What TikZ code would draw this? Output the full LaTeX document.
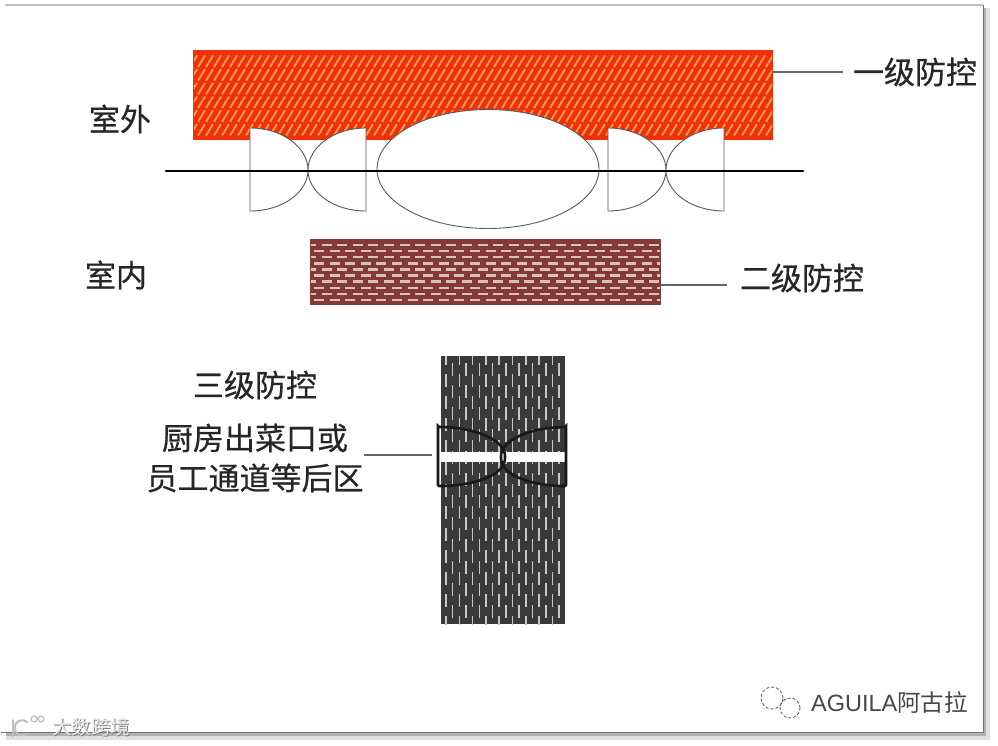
\documentclass[tikz,border=0pt]{standalone}
\usepackage{fontspec}
\usetikzlibrary{shapes.geometric}
\setmainfont{Liberation Sans}
\newfontfamily\cjk{Noto Sans CJK SC}
\newfontfamily\cjklabel[FakeBold=0.5]{Noto Sans CJK SC}
\definecolor{hotred}{HTML}{F22F08}
\definecolor{hatch}{HTML}{F59A4E}
\definecolor{brick}{HTML}{843A37}
\definecolor{brickdash}{HTML}{D8C2BD}
\definecolor{darkzone}{HTML}{3A3A3A}
\tikzset{
  zonelabel/.style={font=\cjklabel\fontsize{31}{40}\selectfont, text=black!85, align=center, inner sep=0pt},
  leader/.style={draw=black!60, line width=1.4pt},
  doorleaf/.style={draw=black!65, line width=0.9pt, fill=white},
  kitchenleaf/.style={draw=black!90, line width=2.6pt, rounded corners=1pt},
  zone/.style={inner sep=0pt, outer sep=0pt, minimum width=#1}
}
\begin{document}
\begin{tikzpicture}[x=1pt, y=-1pt]
  \useasboundingbox (0,0) rectangle (998,746);
  \fill[black!12] (6,8) rectangle (990,740);
  \fill[black!30] (6,8) rectangle (986,736);
  \fill[white] (1,5) rectangle (983,732);
  \draw[black!25, line width=1.5pt] (5,5) -- (983,5);
  \draw[black!55, line width=0.8pt] (1,732) -- (983,732) -- (983,5);
  % outdoor zone
  \node[zone=580pt, minimum height=90pt, fill=hotred] (outer) at (483,95) {};
  \begin{scope}
    \clip (194,52) rectangle (772,138);
    \foreach \row in {0,...,5} {
      \foreach \i in {0,...,74} {
        \draw[hatch, line width=2pt] ({190+\i*8},{67+\row*13.7}) -- ++(7,-11.5);
      }
    }
  \end{scope}
  % middle zone
  \node[zone=351pt, minimum height=66pt, fill=brick] (middle) at (485.5,272) {};
  \begin{scope}
    \clip (311,241) rectangle (660,303);
    \foreach \row in {0,...,9} {
      \pgfmathsetmacro{\shift}{mod(\row,2)*8}
      \foreach \i in {0,...,23} {
        \draw[brickdash, line width=2.4pt] ({306+\shift+\i*15.6},{245+\row*6.1}) -- ++(10,0);
      }
    }
  \end{scope}
  % back zone
  \node[zone=124pt, minimum height=268pt, fill=darkzone] (back) at (503,490) {};
  \begin{scope}
    \clip (441,356) rectangle (565,624);
    \foreach \row in {0,...,12} {
      \foreach \i in {0,...,17} {
        \pgfmathsetmacro{\shift}{mod(\i,2)*11}
        \draw[black!22, line width=1.5pt] ({446+\i*6.65},{352+\shift+\row*22}) -- ++(0,13);
      }
    }
  \end{scope}
  \node[fill=white, inner sep=0pt, minimum width=124pt, minimum height=10pt] (kitchenbar) at (503,457) {};
  \draw[kitchenleaf] (438,427) -- (438,486) .. controls (475,486) and (505,475) .. (505,457) .. controls (505,440) and (475,427) .. cycle;
  \draw[kitchenleaf] (566,427) -- (566,486) .. controls (531,486) and (501,475) .. (501,457) .. controls (501,440) and (531,427) .. cycle;
  % doors on the wall
  \node[draw=black!65, line width=0.9pt, fill=white, ellipse, minimum width=222pt, minimum height=119pt, inner sep=0pt] (lobby) at (488,169) {};
  \foreach \cx in {308,666} {
    \draw[doorleaf] ({\cx-58},128) -- ({\cx-58},211) .. controls ({\cx-25},211) and (\cx,192) .. (\cx,170) .. controls (\cx,148) and ({\cx-25},128) .. cycle;
    \draw[doorleaf] ({\cx+58},128) -- ({\cx+58},211) .. controls ({\cx+25},211) and (\cx,192) .. (\cx,170) .. controls (\cx,148) and ({\cx+25},128) .. cycle;
  }
  \coordinate (wallstart) at (166,171);
  \coordinate (wallend) at (803,171);
  \draw[black, line width=2.2pt, line cap=round] (wallstart) -- (wallend);
  % labels
  \node[zonelabel] (outdoor) at (120,119) {室外};
  \node[zonelabel] (indoor) at (116,275) {室内};
  \node[zonelabel] (levelone) at (915,72) {一级防控};
  \node[zonelabel] (leveltwo) at (802,278) {二级防控};
  \node[zonelabel] (levelthree) at (255,385) {三级防控};
  \node[zonelabel] (kitchen) at (255,458) {厨房出菜口或\\员工通道等后区};
  \coordinate (barend) at (432,455);
  \draw[leader] (levelone.west -| outer.east) -- ++(70,0);
  \draw[leader] (middle.east |- 0,285) -- (727,285);
  \draw[leader] (kitchen.east |- barend) -- (barend);
  % watermarks
  \node[font=\cjk\fontsize{19.5}{19.5}\selectfont, text=black!50, inner sep=0pt] (markshadow) at (92,728) {大数跨境};
  \node[font=\cjk\fontsize{19.5}{19.5}\selectfont, text=black!8, inner sep=0pt] (markleft) at (91,727) {大数跨境};
  \draw[black!25, line width=2pt, line cap=round] (13,720) -- (13,736);
  \draw[black!25, line width=2pt, line cap=round] (27,722) arc (50:310:7.5pt);
  \draw[black!25, line width=1.2pt] (34,719) circle (3pt) (41,719) circle (3pt);
  \node[font=\fontsize{23.5}{23.5}\selectfont, text=black!72, inner sep=0pt, anchor=east] (markright) at (968,702) {AGUILA{\cjk 阿古拉}};
  \draw[black!60, densely dashed, line width=0.9pt] (772,698) circle (11pt);
  \draw[black!60, densely dashed, line width=0.9pt] (790,708) circle (10pt);
\end{tikzpicture}
\end{document}
